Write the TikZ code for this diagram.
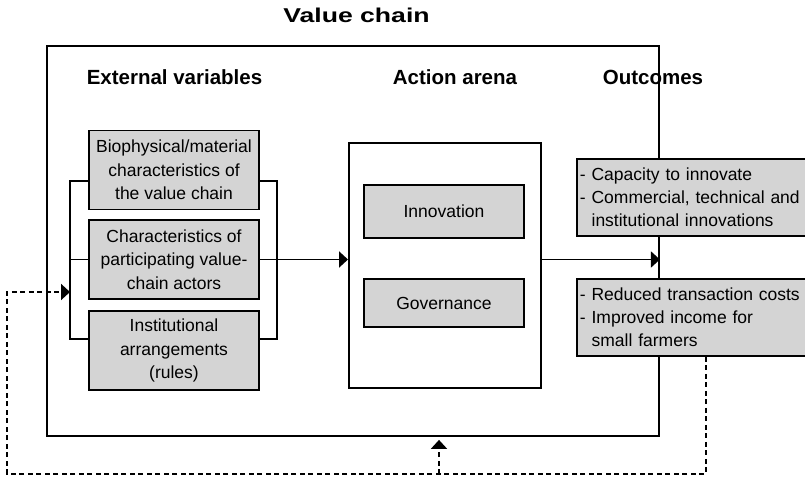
\documentclass[tikz,border=0pt]{standalone}
\usepackage{fontspec}
\setmainfont{Liberation Sans}
\usetikzlibrary{arrows.meta,calc}
\definecolor{boxgray}{HTML}{D4D4D4}
\tikzset{
  conn/.style={line width=1.9pt, black},
  dashconn/.style={line width=1.9pt, black, dash pattern=on 5pt off 3.5pt},
  tip/.style={-{Triangle[length=9pt,width=16pt]}},
  gbox/.style={draw, line width=1.9pt, fill=boxgray, inner sep=0pt, align=center,
    font=\fontsize{17.5}{23.5}\selectfont},
  wbox/.style={draw, line width=1.9pt, fill=white, inner sep=0pt},
  obox/.style={draw, line width=1.9pt, fill=boxgray, inner xsep=3pt, inner ysep=0pt,
    align=left, text width=228pt, minimum height=77pt, anchor=north west,
    font=\fontsize{17.5}{23}\selectfont},
  head/.style={font=\bfseries\fontsize{20.5}{22}\selectfont, inner sep=0pt},
}
\begin{document}
\begin{tikzpicture}[x=1pt,y=-1pt]
\useasboundingbox (0,0) rectangle (805,478);
% title
\node[inner sep=0pt] (title) at (356.5,15) {\scalebox{1.33}[1]{\bfseries\fontsize{20}{21}\selectfont Value chain}};
% outer box
\node[wbox, minimum width=612pt, minimum height=390pt, anchor=north west] (outer) at (46,45) {};
% headings
\node[head] (hext) at (174.5,77) {External variables};
\node[head] (hact) at (455,77) {Action arena};
\node[head] (hout) at (653,77) {Outcomes};
% coordinates of brackets
\coordinate (L1) at (70,181);
\coordinate (L3) at (70,339);
\coordinate (R1) at (277,181);
\coordinate (R3) at (277,339);
% left boxes
\node[gbox, minimum width=170pt, minimum height=79pt] (b1) at (174,170) {Biophysical/material\\characteristics of\\the value chain};
\node[gbox, minimum width=170pt, minimum height=79pt] (b2) at (174,259.5) {Characteristics of\\participating value-\\chain actors};
\node[gbox, minimum width=170pt, minimum height=79pt] (b3) at (174,350.5) {Institutional\\arrangements\\(rules)};
% action arena
\node[wbox, minimum width=192pt, minimum height=245pt, anchor=north west] (arena) at (348,142) {};
\node[gbox, minimum width=160pt, minimum height=53pt] (innov) at (444,211.5) {Innovation};
\node[gbox, minimum width=160pt, minimum height=48pt] (gov) at (444,303) {Governance};
% outcome boxes
\node[obox] (o1) at (576,158) {- Capacity to innovate\\- Commercial, technical and\\\phantom{- }institutional innovations};
\node[obox] (o2) at (576,278) {- Reduced transaction costs\\- Improved income for\\\phantom{- }small farmers};
% brackets
\draw[conn] (b1.west |- L1) -- (L1) -- (L3) -- (b3.west |- L3);
\draw[conn] (b1.east |- R1) -- (R1) -- (R3) -- (b3.east |- R3);
\draw[conn] (b2.west) -- (b2.west -| L1);
% main arrows
\draw[conn, tip] (b2.east) -- (arena.west |- b2.east);
\draw[conn, tip] (arena.east |- b2.east) -- (outer.east |- b2.east);
% feedback loop
\coordinate (FR) at (706,474);
\coordinate (FL) at (7,474);
\coordinate (FI) at (7,292);
\coordinate (FU) at (439,474);
\draw[dashconn, tip] (o2.south -| FR) -- (FR) -- (FL) -- (FI) -- (FI -| L1);
\draw[dashconn, tip, shorten >=3pt] (FU) -- (FU |- outer.south);
\end{tikzpicture}
\end{document}
